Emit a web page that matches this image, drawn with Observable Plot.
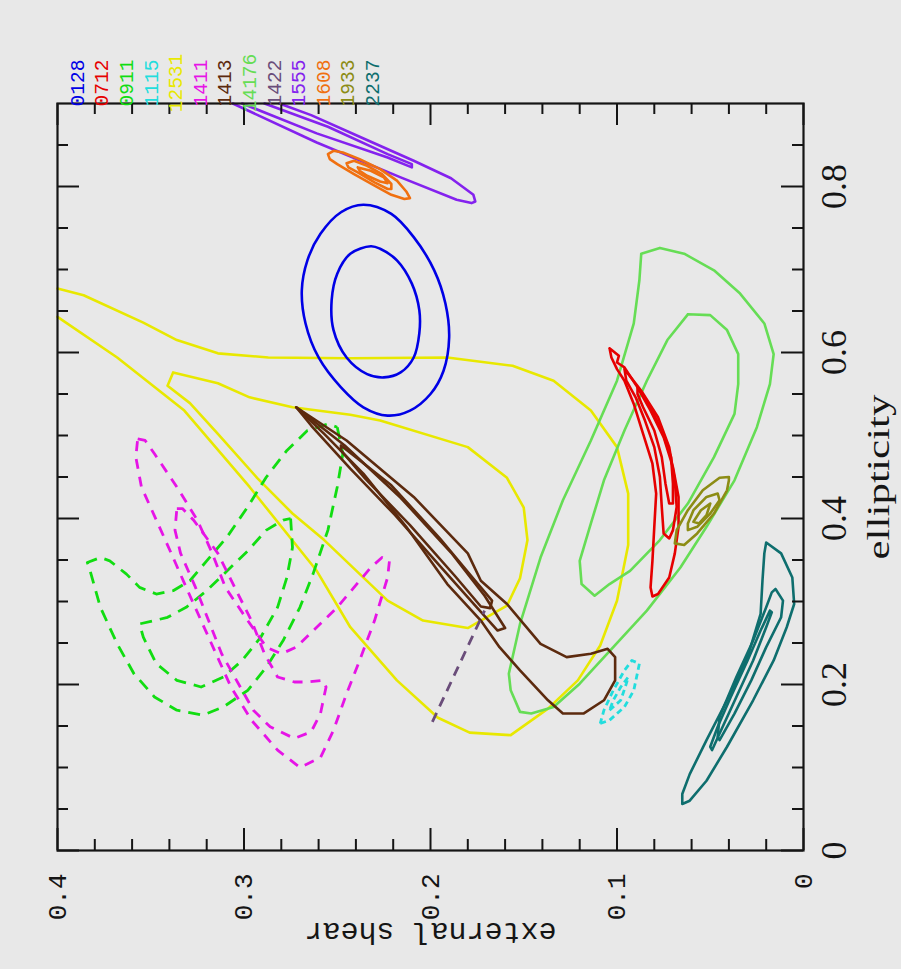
<!DOCTYPE html>
<html><head><meta charset="utf-8">
<script src="https://cdn.jsdelivr.net/npm/d3@7"></script>
<script src="https://cdn.jsdelivr.net/npm/@observablehq/plot@0.6"></script>
<style>html,body{margin:0;padding:0;background:#e8e8e8;} #chart{width:901px;height:969px;}</style>
</head><body><div id="chart"></div>
<script>
// ---- legend ----
const legendCodes = ["0128","0712","0911","1115","12531","1411","1413","14176","1422","1555","1608","1933","2237"];
const legendColors = ["#0000e6","#e60000","#11dd11","#22dddd","#e8e800","#e614e6","#5c2a0e","#66dd55","#6a4d7a","#8422ee","#f07010","#8c8c14","#0e6e6e"];

// ---- axis ticks ----
const ellTicks = [0, 0.2, 0.4, 0.6, 0.8];
const ellLabels = ["0", "0.2", "0.4", "0.6", "0.8"];
const shearTicks = [0, 0.1, 0.2, 0.3, 0.4];
const shearLabels = ["0", "0.1", "0.2", "0.3", "0.4"];

// ---- contours: [ellipticity, external shear] ----
const c0128_outer = [[0.778,0.236],[0.769,0.248],[0.743,0.259],[0.711,0.266],[0.675,0.269],[0.635,0.267],[0.594,0.260],[0.558,0.248],[0.534,0.236],[0.524,0.223],[0.530,0.211],[0.550,0.200],[0.578,0.193],[0.618,0.190],[0.659,0.192],[0.699,0.198],[0.739,0.209],[0.767,0.221]];
const c0128_inner = [[0.728,0.232],[0.719,0.243],[0.695,0.250],[0.663,0.253],[0.627,0.252],[0.594,0.245],[0.574,0.234],[0.570,0.225],[0.576,0.216],[0.594,0.209],[0.623,0.206],[0.651,0.206],[0.683,0.210],[0.711,0.218],[0.725,0.227]];

const c0712_outer = [[0.605,0.104],[0.596,0.099],[0.588,0.100],[0.582,0.096],[0.558,0.089],[0.530,0.082],[0.498,0.075],[0.462,0.070],[0.426,0.067],[0.390,0.067],[0.358,0.069],[0.329,0.072],[0.309,0.078],[0.306,0.081],[0.317,0.082],[0.349,0.081],[0.390,0.080],[0.430,0.079],[0.466,0.081],[0.502,0.086],[0.538,0.091],[0.566,0.096],[0.580,0.100],[0.594,0.103]];
const c0712_mid = [[0.580,0.096],[0.554,0.087],[0.522,0.078],[0.486,0.072],[0.446,0.069],[0.414,0.068],[0.386,0.070],[0.376,0.072],[0.382,0.075],[0.414,0.076],[0.450,0.077],[0.486,0.080],[0.518,0.085],[0.546,0.090],[0.566,0.095]];
const c0712_inner = [[0.558,0.089],[0.534,0.082],[0.506,0.076],[0.474,0.071],[0.442,0.070],[0.418,0.070],[0.418,0.072],[0.442,0.074],[0.474,0.076],[0.506,0.080],[0.534,0.086],[0.550,0.089]];

const c0911_a = [[0.510,0.250],[0.478,0.247],[0.438,0.250],[0.386,0.255],[0.333,0.263],[0.293,0.270],[0.253,0.279],[0.221,0.288],[0.193,0.298],[0.173,0.311],[0.163,0.322],[0.169,0.336],[0.185,0.348],[0.213,0.359],[0.249,0.368],[0.293,0.377],[0.341,0.383],[0.347,0.384],[0.353,0.377],[0.349,0.372],[0.333,0.363],[0.317,0.356],[0.309,0.347],[0.313,0.338],[0.325,0.329],[0.349,0.320],[0.378,0.309],[0.414,0.298],[0.450,0.288],[0.482,0.277],[0.506,0.266],[0.514,0.255]];
const c0911_b = [[0.400,0.275],[0.365,0.274],[0.329,0.277],[0.293,0.282],[0.257,0.291],[0.229,0.301],[0.209,0.311],[0.197,0.323],[0.205,0.336],[0.225,0.347],[0.257,0.354],[0.273,0.356],[0.277,0.348],[0.281,0.341],[0.293,0.331],[0.313,0.320],[0.337,0.309],[0.361,0.298],[0.386,0.288],[0.398,0.279]];

const c1115_outer = [[0.153,0.109],[0.157,0.104],[0.173,0.096],[0.193,0.091],[0.225,0.088],[0.229,0.092],[0.217,0.096],[0.193,0.102],[0.169,0.107]];
const c1115_inner = [[0.169,0.104],[0.181,0.098],[0.201,0.095],[0.209,0.094],[0.197,0.098],[0.181,0.102]];

const c12531_outer = [[0.643,0.400],[0.594,0.368],[0.530,0.332],[0.438,0.297],[0.337,0.261],[0.269,0.243],[0.205,0.218],[0.160,0.196],[0.142,0.179],[0.139,0.157],[0.171,0.137],[0.205,0.121],[0.247,0.109],[0.301,0.100],[0.368,0.094],[0.430,0.094],[0.486,0.100],[0.530,0.114],[0.566,0.134],[0.584,0.156],[0.594,0.191],[0.593,0.243],[0.594,0.287],[0.599,0.314],[0.615,0.336],[0.636,0.354],[0.669,0.386],[0.677,0.400]];
const c12531_inner = [[0.560,0.341],[0.576,0.338],[0.563,0.314],[0.546,0.297],[0.534,0.274],[0.525,0.243],[0.518,0.227],[0.486,0.180],[0.449,0.159],[0.413,0.150],[0.374,0.148],[0.328,0.152],[0.295,0.159],[0.268,0.180],[0.277,0.204],[0.301,0.223],[0.374,0.257],[0.406,0.274],[0.449,0.293],[0.502,0.314],[0.539,0.329]];

const c1411_a = [[0.496,0.357],[0.494,0.353],[0.478,0.348],[0.438,0.336],[0.398,0.325],[0.358,0.317],[0.317,0.310],[0.277,0.298],[0.245,0.288],[0.237,0.280],[0.245,0.272],[0.269,0.261],[0.293,0.250],[0.317,0.241],[0.341,0.232],[0.353,0.226],[0.349,0.222],[0.329,0.223],[0.277,0.230],[0.229,0.238],[0.189,0.245],[0.145,0.252],[0.112,0.259],[0.100,0.270],[0.121,0.282],[0.157,0.296],[0.197,0.307],[0.237,0.315],[0.277,0.323],[0.317,0.331],[0.358,0.339],[0.398,0.347],[0.438,0.355],[0.474,0.358]];
const c1411_b = [[0.412,0.336],[0.412,0.333],[0.398,0.327],[0.358,0.314],[0.317,0.305],[0.277,0.296],[0.237,0.289],[0.209,0.282],[0.203,0.273],[0.203,0.266],[0.205,0.258],[0.197,0.256],[0.165,0.259],[0.143,0.264],[0.135,0.273],[0.149,0.286],[0.169,0.295],[0.197,0.302],[0.237,0.312],[0.277,0.319],[0.317,0.326],[0.358,0.334],[0.386,0.337]];

const c1413_outer = [[0.534,0.272],[0.494,0.245],[0.426,0.209],[0.358,0.180],[0.325,0.173],[0.297,0.159],[0.249,0.141],[0.233,0.127],[0.237,0.114],[0.243,0.105],[0.233,0.101],[0.205,0.101],[0.181,0.107],[0.165,0.118],[0.165,0.129],[0.181,0.137],[0.217,0.152],[0.245,0.163],[0.277,0.173],[0.321,0.191],[0.390,0.213],[0.454,0.236],[0.502,0.257]];
const c1413_in1 = [[0.534,0.272],[0.488,0.246],[0.425,0.216],[0.359,0.189],[0.307,0.171],[0.268,0.160],[0.265,0.164],[0.295,0.176],[0.343,0.195],[0.404,0.219],[0.460,0.243],[0.512,0.264]];
const c1413_in2 = [[0.488,0.248],[0.440,0.221],[0.376,0.195],[0.325,0.176],[0.301,0.167],[0.292,0.168],[0.294,0.173],[0.331,0.187],[0.392,0.211],[0.448,0.235],[0.482,0.248]];

const c14176_outer = [[0.719,0.087],[0.726,0.077],[0.719,0.064],[0.699,0.048],[0.671,0.034],[0.635,0.021],[0.598,0.016],[0.562,0.018],[0.510,0.025],[0.446,0.037],[0.390,0.052],[0.341,0.066],[0.289,0.084],[0.245,0.102],[0.201,0.120],[0.173,0.134],[0.165,0.146],[0.167,0.152],[0.193,0.157],[0.213,0.158],[0.273,0.152],[0.353,0.141],[0.422,0.129],[0.494,0.114],[0.566,0.100],[0.635,0.091],[0.687,0.088]];
const c14176_inner = [[0.646,0.062],[0.645,0.050],[0.627,0.041],[0.598,0.035],[0.562,0.035],[0.526,0.037],[0.474,0.048],[0.418,0.062],[0.374,0.077],[0.337,0.093],[0.321,0.104],[0.307,0.112],[0.321,0.119],[0.349,0.120],[0.394,0.114],[0.446,0.107],[0.506,0.096],[0.566,0.084],[0.615,0.073]];

const c1422 = [[0.155,0.199],[0.289,0.171]];

const c1555_outer = [[0.900,0.306],[0.853,0.261],[0.811,0.216],[0.784,0.186],[0.780,0.178],[0.782,0.176],[0.790,0.177],[0.810,0.189],[0.831,0.209],[0.860,0.238],[0.886,0.264],[0.900,0.281]];
const c1555_inner = [[0.900,0.301],[0.864,0.261],[0.835,0.223],[0.824,0.211],[0.823,0.210],[0.827,0.210],[0.839,0.223],[0.872,0.255],[0.900,0.289]];

const c1608_outer = [[0.839,0.255],[0.843,0.252],[0.841,0.247],[0.833,0.238],[0.821,0.227],[0.807,0.218],[0.794,0.213],[0.786,0.211],[0.785,0.214],[0.790,0.221],[0.801,0.230],[0.815,0.241],[0.827,0.250],[0.833,0.254]];
const c1608_inner = [[0.828,0.245],[0.831,0.241],[0.825,0.234],[0.815,0.226],[0.803,0.221],[0.797,0.221],[0.797,0.223],[0.805,0.230],[0.817,0.239],[0.823,0.244]];
const c1608_core = [[0.823,0.239],[0.819,0.232],[0.811,0.225],[0.804,0.223],[0.806,0.227],[0.813,0.234],[0.819,0.238]];

const c1933_outer = [[0.450,0.040],[0.449,0.045],[0.434,0.054],[0.410,0.062],[0.386,0.068],[0.370,0.069],[0.368,0.064],[0.382,0.057],[0.406,0.048],[0.434,0.041],[0.446,0.040]];
const c1933_inner = [[0.430,0.046],[0.426,0.052],[0.410,0.059],[0.394,0.062],[0.386,0.062],[0.390,0.057],[0.406,0.050],[0.422,0.045]];
const c1933_core = [[0.418,0.050],[0.410,0.055],[0.396,0.059],[0.394,0.056],[0.404,0.052]];

const c2237_outer = [[0.371,0.020],[0.358,0.012],[0.329,0.006],[0.297,0.005],[0.269,0.009],[0.229,0.016],[0.181,0.027],[0.125,0.041],[0.084,0.052],[0.060,0.061],[0.056,0.065],[0.068,0.065],[0.092,0.061],[0.133,0.052],[0.181,0.041],[0.233,0.030],[0.285,0.023],[0.325,0.022],[0.358,0.021]];
const c2237_mid = [[0.315,0.015],[0.301,0.011],[0.281,0.012],[0.245,0.020],[0.205,0.028],[0.165,0.037],[0.133,0.045],[0.137,0.046],[0.161,0.045],[0.209,0.036],[0.253,0.027],[0.293,0.020],[0.311,0.017]];
const c2237_inner = [[0.289,0.018],[0.265,0.023],[0.229,0.030],[0.185,0.039],[0.149,0.046],[0.125,0.050],[0.121,0.049],[0.141,0.045],[0.185,0.036],[0.229,0.027],[0.269,0.020],[0.287,0.017]];

// ---- grouping ----
const groups = [
  {code:"12531", closed:false, rings:[c12531_outer]},
  {code:"12531", closed:true, rings:[c12531_inner]},
  {code:"0911", dash:"12,8", closed:true, rings:[c0911_a, c0911_b]},
  {code:"1411", dash:"10,8", closed:true, rings:[c1411_a, c1411_b]},
  {code:"14176", closed:true, rings:[c14176_outer, c14176_inner]},
  {code:"0128", closed:true, smooth:true, rings:[c0128_outer, c0128_inner]},
  {code:"0712", closed:true, rings:[c0712_outer, c0712_mid, c0712_inner]},
  {code:"1413", closed:true, rings:[c1413_outer, c1413_in1, c1413_in2]},
  {code:"1422", dash:"10,7", closed:false, rings:[c1422]},
  {code:"1115", dash:"6,4", closed:true, rings:[c1115_outer, c1115_inner]},
  {code:"1555", closed:false, rings:[c1555_outer, c1555_inner]},
  {code:"1608", closed:true, rings:[c1608_outer, c1608_inner, c1608_core]},
  {code:"1933", closed:true, rings:[c1933_outer, c1933_inner, c1933_core]},
  {code:"2237", closed:true, rings:[c2237_outer, c2237_mid, c2237_inner]}
];

const colorOf = Object.fromEntries(legendCodes.map((c, i) => [c, legendColors[i]]));

function rowsOf(g, gi) {
  const rows = [];
  g.rings.forEach((ring, ri) => {
    const pts = (g.closed && !g.smooth) ? ring.concat([ring[0]]) : ring;
    pts.forEach(([e, s]) => rows.push({e, s, key: gi + "-" + ri}));
  });
  return rows;
}

const W = 901, H = 969, mL = 57, mR = 98, mT = 103, mB = 119;
const innerW = W - mL - mR, innerH = H - mT - mB;
const near = (v, step) => Math.abs(v / step - Math.round(v / step)) < 1e-6;
const shearMinor = d3.range(1, 20).map(i => i * 0.02).filter(v => !near(v, 0.1));
const ellMinor = d3.range(1, 18).map(i => i * 0.05).filter(v => !near(v, 0.2));
const tickStyle = {stroke: "#151515", strokeWidth: 2};

const marks = [];
groups.forEach((g, gi) => {
  marks.push(Plot.line(rowsOf(g, gi), {
    x: "s", y: "e", z: "key",
    curve: g.smooth ? "catmull-rom-closed" : "linear",
    stroke: colorOf[g.code], strokeWidth: g.dash ? 2.8 : 2.6,
    strokeDasharray: g.dash || null,
    strokeLinejoin: "round", strokeLinecap: g.dash ? "butt" : "round"
  }));
});

// inward ticks on all four sides
marks.push(
  Plot.tickX(shearTicks, {x: d => d, insetTop: innerH - 22, ...tickStyle}),
  Plot.tickX(shearTicks, {x: d => d, insetBottom: innerH - 22, ...tickStyle}),
  Plot.tickX(shearMinor, {x: d => d, insetTop: innerH - 11, ...tickStyle}),
  Plot.tickX(shearMinor, {x: d => d, insetBottom: innerH - 11, ...tickStyle}),
  Plot.tickY(ellTicks, {y: d => d, insetRight: innerW - 22, ...tickStyle}),
  Plot.tickY(ellTicks, {y: d => d, insetLeft: innerW - 22, ...tickStyle}),
  Plot.tickY(ellMinor, {y: d => d, insetRight: innerW - 11, ...tickStyle}),
  Plot.tickY(ellMinor, {y: d => d, insetLeft: innerW - 11, ...tickStyle}),
  Plot.frame({stroke: "#151515", strokeWidth: 2.2})
);

// tick labels and titles
marks.push(
  Plot.text(ellTicks, {y: d => d, text: (d, i) => ellLabels[i], frameAnchor: "right", dx: 17,
    rotate: -90, textAnchor: "middle", lineAnchor: "top",
    fontFamily: "Liberation Serif, serif", fontSize: 36, fill: "#151515"}),
  Plot.text(shearTicks, {x: d => d, text: (d, i) => shearLabels[i], frameAnchor: "bottom", dy: 23,
    rotate: -90, textAnchor: "end", lineAnchor: "middle",
    fontFamily: "Liberation Mono, monospace", fontSize: 26, fill: "#151515"}),
  Plot.text(["ellipticity"], {frameAnchor: "right", dx: 63, rotate: -90, textAnchor: "middle", lineAnchor: "top",
    fontFamily: "Liberation Serif, serif", fontSize: 31, fill: "#151515"}),
  Plot.text(["external shear"], {frameAnchor: "bottom", dy: 72, rotate: 180, textAnchor: "middle", lineAnchor: "bottom",
    fontFamily: "Liberation Mono, monospace", fontSize: 30, fill: "#151515"})
);

const chart = Plot.plot({
  width: W, height: H,
  marginLeft: mL, marginRight: mR, marginTop: mT, marginBottom: mB,
  x: {domain: [0.4, 0], axis: null},
  y: {domain: [0, 0.9], axis: null},
  style: {background: "#e8e8e8"},
  marks
});

// stretch the ellipticity title along its reading direction, as in the reference
d3.select(chart).selectAll("text")
  .filter(function () { return this.textContent === "ellipticity"; })
  .attr("textLength", 165).attr("lengthAdjust", "spacingAndGlyphs");

// colour key of lens names, rotated, above the frame
const lg = d3.select(chart).append("g")
  .attr("font-family", "Liberation Mono, monospace").attr("font-size", 19.5);
legendCodes.forEach((c, i) => {
  lg.append("text")
    .attr("transform", `translate(${77 + 24.6 * i},83) rotate(-90)`)
    .attr("dy", "0.35em")
    .attr("fill", legendColors[i])
    .text(c);
});

document.getElementById("chart").appendChild(chart);
</script>
</body></html>
